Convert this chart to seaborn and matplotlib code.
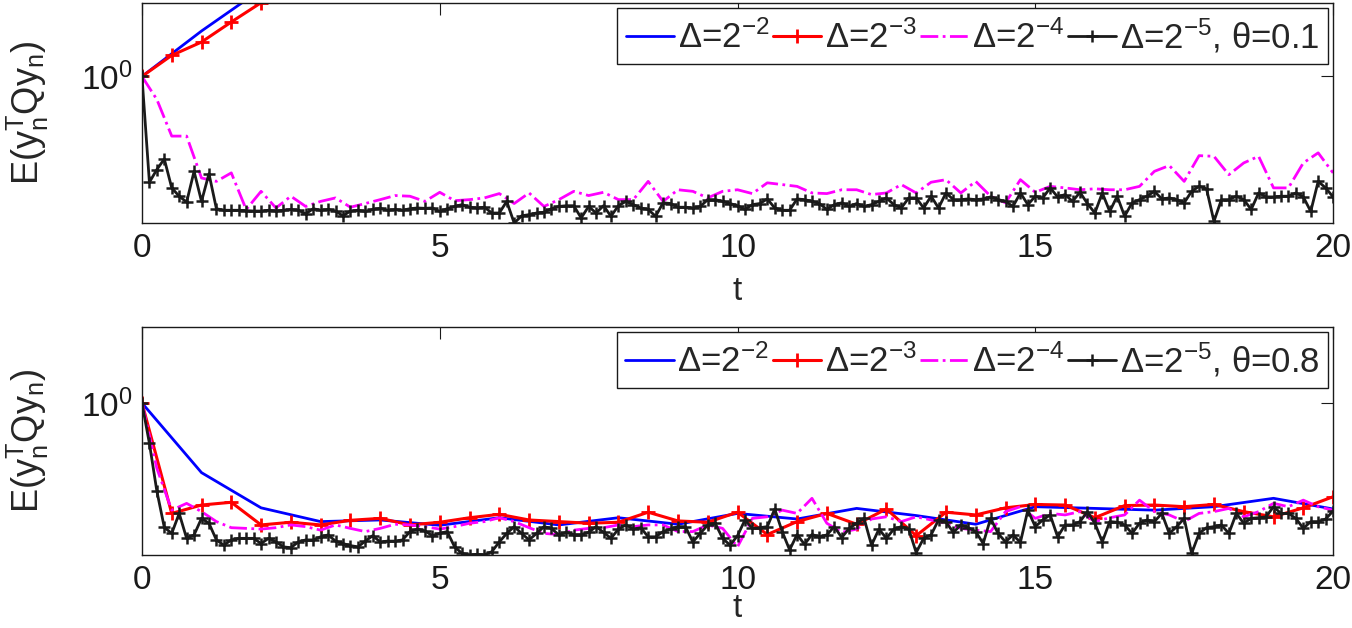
import numpy as np
import matplotlib
matplotlib.use("Agg")
import matplotlib.pyplot as plt
import seaborn as sns
from matplotlib.ticker import NullLocator

# time grids: each scheme is shown every 4 steps
t_d2 = np.arange(0, 20.01, 1.0)
t_d3 = np.arange(0, 20.01, 0.5)
t_d4 = np.arange(0, 20.01, 0.25)
t_d5 = np.arange(0, 20.01, 0.125)

# ---- theta = 0.1 (top panel) ----
top_d2_t = [0, 1, 2]
top_d2 = [1.0, 1.607, 2.48]
top_d3_t = [0, 0.5, 1.0, 1.5, 2.0]
top_d3 = [1.0, 1.246, 1.432, 1.766, 2.16]
top_d4 = [1.0, 0.786, 0.536, 0.536,
          0.346, 0.334, 0.365, 0.249,
          0.301, 0.253, 0.286, 0.257,
          0.271, 0.281, 0.255, 0.265,
          0.276, 0.288, 0.286, 0.271,
          0.298, 0.273, 0.276, 0.281,
          0.294, 0.265, 0.296, 0.257,
          0.276, 0.301, 0.288, 0.298,
          0.276, 0.276, 0.334, 0.271,
          0.306, 0.301, 0.281, 0.301,
          0.306, 0.294, 0.329, 0.323,
          0.317, 0.296, 0.294, 0.306,
          0.306, 0.291, 0.296, 0.323,
          0.296, 0.331, 0.340, 0.296,
          0.334, 0.286, 0.267, 0.340,
          0.298, 0.317, 0.312, 0.306,
          0.309, 0.306, 0.306, 0.317,
          0.371, 0.394, 0.334, 0.437,
          0.434, 0.358, 0.405, 0.434,
          0.312, 0.312, 0.405, 0.450,
          0.365]
top_d5 = [1.0, 0.331, 0.378, 0.422, 0.312, 0.286, 0.269, 0.371,
          0.271, 0.362, 0.251, 0.247, 0.247, 0.247, 0.246, 0.245,
          0.245, 0.247, 0.245, 0.247, 0.249, 0.247, 0.238, 0.251,
          0.247, 0.249, 0.245, 0.233, 0.245, 0.247, 0.244, 0.249,
          0.252, 0.247, 0.249, 0.247, 0.251, 0.253, 0.252, 0.253,
          0.244, 0.251, 0.257, 0.262, 0.255, 0.253, 0.255, 0.240,
          0.240, 0.271, 0.216, 0.233, 0.236, 0.240, 0.242, 0.251,
          0.257, 0.259, 0.259, 0.228, 0.257, 0.240, 0.259, 0.232,
          0.259, 0.271, 0.262, 0.253, 0.249, 0.232, 0.267, 0.265,
          0.255, 0.255, 0.253, 0.257, 0.276, 0.276, 0.271, 0.265,
          0.259, 0.249, 0.262, 0.265, 0.278, 0.253, 0.247, 0.247,
          0.278, 0.276, 0.271, 0.265, 0.249, 0.262, 0.267, 0.257,
          0.265, 0.257, 0.262, 0.271, 0.281, 0.262, 0.253, 0.281,
          0.281, 0.253, 0.286, 0.253, 0.296, 0.276, 0.276, 0.278,
          0.276, 0.278, 0.284, 0.276, 0.271, 0.257, 0.296, 0.262,
          0.286, 0.281, 0.312, 0.284, 0.291, 0.271, 0.298, 0.265,
          0.240, 0.296, 0.244, 0.286, 0.232, 0.267, 0.276, 0.286,
          0.301, 0.278, 0.281, 0.276, 0.267, 0.301, 0.317, 0.309,
          0.220, 0.276, 0.276, 0.286, 0.276, 0.249, 0.296, 0.284,
          0.284, 0.286, 0.286, 0.296, 0.284, 0.244, 0.334, 0.312,
          0.284]

# ---- theta = 0.8 (bottom panel) ----
bot_d2 = [1.0, 0.495, 0.347, 0.302, 0.307, 0.291, 0.314, 0.292, 0.314, 0.294,
          0.328, 0.310, 0.345, 0.321, 0.294, 0.351, 0.345, 0.339, 0.351, 0.382,
          0.343]
bot_d3 = [1.0, 0.328, 0.357, 0.367, 0.292, 0.300, 0.292, 0.306, 0.312, 0.292,
          0.300, 0.314, 0.325, 0.307, 0.302, 0.297, 0.300, 0.332, 0.304, 0.300,
          0.332, 0.265, 0.302, 0.328, 0.294, 0.343, 0.262, 0.332, 0.323, 0.347,
          0.359, 0.357, 0.314, 0.355, 0.357, 0.351, 0.359, 0.334, 0.317, 0.347,
          0.388]
bot_d4 = [1.0, 0.517, 0.339, 0.363,
          0.334, 0.302, 0.284, 0.282,
          0.280, 0.284, 0.292, 0.287,
          0.277, 0.292, 0.282, 0.273,
          0.282, 0.294, 0.292, 0.287,
          0.280, 0.287, 0.297, 0.302,
          0.314, 0.302, 0.284, 0.268,
          0.265, 0.277, 0.282, 0.284,
          0.292, 0.287, 0.292, 0.292,
          0.273, 0.273, 0.292, 0.282,
          0.234, 0.312, 0.317, 0.339,
          0.328, 0.382, 0.297, 0.271,
          0.280, 0.310, 0.317, 0.302,
          0.317, 0.307, 0.297, 0.282,
          0.277, 0.273, 0.334, 0.351,
          0.312, 0.328, 0.323, 0.334,
          0.302, 0.314, 0.323, 0.375,
          0.334, 0.323, 0.302, 0.328,
          0.334, 0.345, 0.317, 0.334,
          0.363, 0.351, 0.375, 0.351,
          0.339]
bot_d5 = [1.0, 0.665, 0.411, 0.285, 0.268, 0.328, 0.255, 0.264,
          0.312, 0.297, 0.251, 0.238, 0.251, 0.255, 0.255, 0.255,
          0.242, 0.255, 0.246, 0.234, 0.232, 0.246, 0.251, 0.251,
          0.259, 0.264, 0.248, 0.242, 0.237, 0.234, 0.248, 0.262,
          0.246, 0.248, 0.248, 0.251, 0.273, 0.280, 0.275, 0.262,
          0.268, 0.273, 0.234, 0.219, 0.216, 0.217, 0.216, 0.223,
          0.246, 0.268, 0.287, 0.268, 0.251, 0.268, 0.287, 0.282,
          0.264, 0.271, 0.265, 0.265, 0.271, 0.287, 0.271, 0.255,
          0.280, 0.292, 0.280, 0.284, 0.259, 0.259, 0.273, 0.280,
          0.287, 0.287, 0.246, 0.268, 0.292, 0.297, 0.255, 0.238,
          0.262, 0.307, 0.282, 0.284, 0.287, 0.343, 0.273, 0.227,
          0.265, 0.240, 0.265, 0.259, 0.264, 0.287, 0.257, 0.282,
          0.297, 0.312, 0.238, 0.280, 0.255, 0.280, 0.287, 0.280,
          0.221, 0.255, 0.264, 0.307, 0.300, 0.271, 0.292, 0.284,
          0.273, 0.242, 0.312, 0.268, 0.246, 0.264, 0.245, 0.339,
          0.287, 0.307, 0.323, 0.259, 0.292, 0.292, 0.302, 0.334,
          0.297, 0.246, 0.302, 0.300, 0.292, 0.268, 0.297, 0.307,
          0.302, 0.328, 0.268, 0.287, 0.312, 0.219, 0.268, 0.284,
          0.287, 0.292, 0.268, 0.328, 0.297, 0.312, 0.314, 0.317,
          0.351, 0.328, 0.328, 0.312, 0.282, 0.302, 0.302, 0.310,
          0.336]

labels = ["Δ=2$^{-2}$", "Δ=2$^{-3}$", "Δ=2$^{-4}$", "Δ=2$^{-5}$, θ=%s"]

sns.set_theme(style="white")
plt.rcParams["font.family"] = ["Liberation Sans", "DejaVu Sans"]
plt.rcParams["mathtext.fontset"] = "custom"
plt.rcParams["mathtext.rm"] = "Liberation Sans"
plt.rcParams["mathtext.it"] = "Liberation Sans:italic"
plt.rcParams["mathtext.default"] = "regular"

fig = plt.figure(figsize=(13.52, 6.28), dpi=100)
ax1 = fig.add_axes([0.105, 0.6444, 0.881, 0.3513])
ax2 = fig.add_axes([0.105, 0.1162, 0.881, 0.3636])


def panel(ax, d2, d3, d4, d5, theta):
    sns.lineplot(x=d2[0], y=d2[1], ax=ax, color="#0000ff", lw=2,
                 label=labels[0], estimator=None, sort=False)
    sns.lineplot(x=d3[0], y=d3[1], ax=ax, color="#ff0000", lw=2.2,
                 marker="+", ms=10, mec="#ff0000", mew=2,
                 label=labels[1], estimator=None, sort=False)
    sns.lineplot(x=d4[0], y=d4[1], ax=ax, color="#ff00ff", lw=2,
                 linestyle="-.", label=labels[2], estimator=None, sort=False)
    sns.lineplot(x=d5[0], y=d5[1], ax=ax, color="k", lw=2,
                 marker="+", ms=8, mec="k", mew=1.8,
                 label=labels[3] % theta, estimator=None, sort=False)
    ax.set_yscale("log")
    ax.set_xlim(0, 20)
    ax.set_ylim(0.2155, 2.16)
    ax.set_xticks([0, 5, 10, 15, 20])
    ax.set_yticks([1.0])
    ax.set_yticklabels(["$10^0$"])
    ax.yaxis.set_minor_locator(NullLocator())
    ax.tick_params(direction="in", length=8.5, width=0.8, top=True, right=True,
                   labelsize=24, pad=7, colors="k")
    for s in ax.spines.values():
        s.set_color("k")
        s.set_linewidth(1.0)
    ax.set_xlabel("t", fontsize=24)
    ax.set_ylabel("E(y$_n^T$Qy$_n$)", fontsize=26)
    ax.yaxis.set_label_coords(-0.076, 0.5)
    leg = ax.legend(loc="upper right", ncol=4, fontsize=25, numpoints=1,
                    handlelength=1.4, handletextpad=0.1, columnspacing=0.1,
                    borderpad=0.25, borderaxespad=0.15, fancybox=False,
                    framealpha=1, edgecolor="k")
    leg.get_frame().set_linewidth(1.0)


panel(ax1, (top_d2_t, top_d2), (top_d3_t, top_d3), (t_d4, top_d4),
      (t_d5, top_d5), "0.1")
panel(ax2, (t_d2, bot_d2), (t_d3, bot_d3), (t_d4, bot_d4),
      (t_d5, bot_d5), "0.8")
ax1.xaxis.set_label_coords(0.5, -0.24)
ax2.xaxis.set_label_coords(0.5, -0.165)

fig.savefig("out.png", dpi=100)
